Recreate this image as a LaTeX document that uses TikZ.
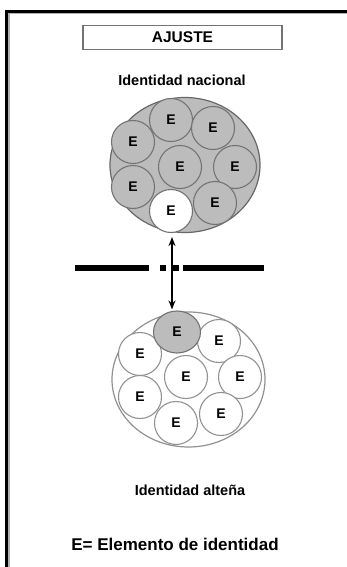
\documentclass[tikz,border=0pt]{standalone}
\usepackage{fontspec}
\setmainfont{Liberation Sans}
\usetikzlibrary{shapes.geometric,arrows.meta}
\definecolor{cfill}{RGB}{188,188,188}
\definecolor{cline}{RGB}{115,115,115}
\definecolor{lline}{RGB}{145,145,145}
\tikzset{
  big/.style={draw=cline,line width=1.2pt,ellipse,minimum width=150pt,minimum height=135pt,inner sep=0pt},
  elem/.style={draw=cline,line width=1.1pt,circle,minimum size=43pt,inner sep=0pt,font=\fontsize{14}{14}\selectfont\bfseries},
  grayelem/.style={elem,fill=cfill},
  whiteelem/.style={elem,fill=white,draw=lline},
  lbl/.style={font=\fontsize{14.5}{15}\selectfont\bfseries,inner sep=0pt},
  barseg/.style={line width=6pt,black},
}
\begin{document}
\begin{tikzpicture}[x=1pt,y=-1pt]
\useasboundingbox (0,0) rectangle (347,567);
% frame
\draw[line width=1.6pt,gray!60] (9.2,567) -- (9.2,13.3) -- (347,13.3);
\draw[line width=3pt,black] (6.8,567) -- (6.8,11.3) -- (347,11.3);
% title
\node[draw=cline,line width=1.3pt,minimum width=199pt,minimum height=24pt,inner sep=0pt,font=\fontsize{15.5}{16}\selectfont\bfseries] (title) at (182.5,37.5) {AJUSTE};
\node[lbl] (nac) at (182,80) {Identidad nacional};
% upper group
\node[big,fill=cfill,draw=cline!90!black] (U) at (185,165) {};
\node[grayelem] (u1) at (171,120) {E};
\node[grayelem] (u2) at (213,128) {E};
\node[grayelem] (u3) at (133,142) {E};
\node[grayelem] (u4) at (180,167) {E};
\node[grayelem] (u5) at (235,167) {E};
\node[grayelem] (u6) at (133,187) {E};
\node[grayelem] (u7) at (215,203) {E};
\node[whiteelem,draw=cline] (u8) at (171,211) {E};
% lower group
\node[big,fill=white,draw=lline,minimum width=153pt,minimum height=135pt] (L) at (188.5,379.5) {};
\node[whiteelem] (l2) at (219,341) {E};
\node[whiteelem] (l3) at (140,354) {E};
\node[whiteelem] (l4) at (186,377) {E};
\node[whiteelem] (l5) at (240,377) {E};
\node[whiteelem] (l6) at (140,397) {E};
\node[whiteelem] (l7) at (176,423) {E};
\node[whiteelem] (l8) at (221,414) {E};
\node[grayelem,ellipse,minimum width=47pt,minimum height=42pt] (l1) at (177,332) {E};
% barrier
\coordinate (b0) at (75,268);
\coordinate (b1) at (149,268);
\coordinate (b2) at (160,268);
\coordinate (b3) at (166,268);
\coordinate (b4) at (171,268);
\coordinate (b5) at (179,268);
\coordinate (b6) at (183,268);
\coordinate (b7) at (264,268);
\draw[barseg] (b0) -- (b1);
\draw[barseg] (b2) -- (b3);
\draw[barseg] (b4) -- (b5);
\draw[barseg] (b6) -- (b7);
% arrow
\draw[line width=2pt,{Stealth[length=9pt,width=7pt]}-{Stealth[length=9pt,width=7pt]},shorten <=4pt,shorten >=1pt] ([xshift=1pt]u8.south) -- ([xshift=-5pt]l1.north);
% labels
\node[lbl] (alt) at (190,490) {Identidad alteña};
\node[font=\fontsize{17}{18}\selectfont\bfseries,inner sep=0pt] (leg) at (175,544) {E= Elemento de identidad};
\end{tikzpicture}
\end{document}
